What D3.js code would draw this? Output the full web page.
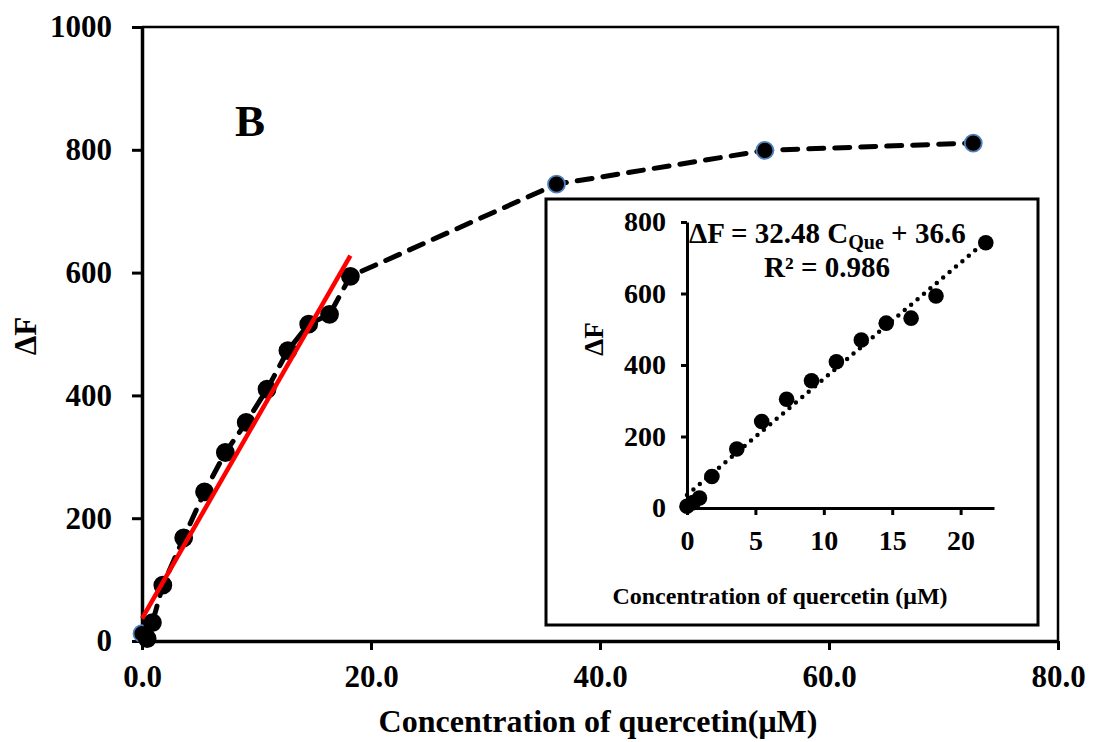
<!DOCTYPE html>
<html>
<head>
<meta charset="utf-8">
<script src="https://cdn.jsdelivr.net/npm/d3@7"></script>
<style>
  body { margin: 0; background: #fff; }
  svg { display: block; }
  text { font-family: "Liberation Serif", "Times New Roman", serif; font-weight: bold; fill: #000; }
</style>
</head>
<body>
<svg id="chart" width="1094" height="742"></svg>
<script>
// Fluorescence change (ΔF) against quercetin concentration (µM)
const concMain   = [0, 0.45, 0.91, 1.82, 3.64, 5.46, 7.28, 9.10, 10.92, 12.74, 14.56, 16.38, 18.20, 36.2, 54.4, 72.6];
const deltaFMain = [12, 4, 30, 91, 168, 243, 307, 356, 410, 473, 516, 532, 594, 744, 799, 811];

// Linear range shown in the inset
const concInset   = [0, 0.45, 0.91, 1.82, 3.64, 5.46, 7.28, 9.10, 10.92, 12.74, 14.56, 16.38, 18.20, 21.84];
const deltaFInset = [5, 15, 28, 88, 165, 242, 304, 356, 409, 470, 517, 531, 593, 742];

// Least-squares fit of the linear range
const fitSlope = 32.48;
const fitIntercept = 36.6;
const fitR2 = 0.986;

const mainXTicks  = [0, 20, 40, 60, 80];
const mainYTicks  = [0, 200, 400, 600, 800, 1000];
const insetXTicks = [0, 5, 10, 15, 20];
const insetYTicks = [0, 200, 400, 600, 800];

const svg = d3.select("#chart");
const blue = "#4f81bd";

// ---------- main panel ----------
const x = d3.scaleLinear().domain([0, 80]).range([142, 1058]);
const y = d3.scaleLinear().domain([0, 1000]).range([641, 27]);

// plot-area frame (top and right)
svg.append("path")
  .attr("d", `M${x(0)},${y(1000)}H${x(80)}V${y(0)}`)
  .attr("fill", "none").attr("stroke", "#000").attr("stroke-width", 2.5);

const yAxis = svg.append("g")
  .attr("transform", `translate(${x(0)},0)`)
  .call(d3.axisLeft(y).tickValues(mainYTicks).tickSize(10).tickSizeOuter(0).tickPadding(20).tickFormat(d3.format("d")));
const xAxis = svg.append("g")
  .attr("transform", `translate(0,${y(0)})`)
  .call(d3.axisBottom(x).tickValues(mainXTicks).tickSize(9).tickSizeOuter(0).tickPadding(15).tickFormat(d3.format(".1f")));

[yAxis, xAxis].forEach(g => {
  g.attr("font-family", null).attr("font-size", null);
  g.select(".domain").attr("stroke-width", 3.5);
  g.selectAll(".tick line").attr("stroke-width", 3);
  g.selectAll("text").style("font-size", "31px");
});

// connecting dashed curve
const mainPts = concMain.map((c, i) => [c, deltaFMain[i]]);
svg.append("path")
  .datum(mainPts)
  .attr("d", d3.line().x(d => x(d[0])).y(d => y(d[1])))
  .attr("fill", "none").attr("stroke", "#000").attr("stroke-width", 5)
  .attr("stroke-dasharray", "15 11").attr("stroke-linecap", "round");

svg.append("g").selectAll("circle")
  .data(mainPts)
  .join("circle")
  .attr("cx", d => x(d[0])).attr("cy", d => y(d[1])).attr("r", 8.5)
  .attr("fill", "#000")
  .attr("stroke", (d, i) => (i === 0 || d[0] > 20) ? blue : "#000")
  .attr("stroke-width", 1.8);

// fitted line over the linear range
const fitX = [0, 18.2];
svg.append("line")
  .attr("x1", x(fitX[0])).attr("y1", y(fitSlope * fitX[0] + fitIntercept))
  .attr("x2", x(fitX[1])).attr("y2", y(fitSlope * fitX[1] + fitIntercept))
  .attr("stroke", "#ff0000").attr("stroke-width", 4.5);

// titles
svg.append("text")
  .attr("x", 598).attr("y", 732).attr("text-anchor", "middle")
  .style("font-size", "32px")
  .text("Concentration of quercetin(μM)");
svg.append("text")
  .attr("transform", "translate(36,336) rotate(-90)").attr("text-anchor", "middle")
  .style("font-size", "31px")
  .text("ΔF");
svg.append("text")
  .attr("x", 250).attr("y", 136).attr("text-anchor", "middle")
  .style("font-size", "45px")
  .text("B");

// ---------- inset ----------
const inset = svg.append("g");
inset.append("rect")
  .attr("x", 546).attr("y", 199).attr("width", 492).attr("height", 426)
  .attr("fill", "#fff").attr("stroke", "#000").attr("stroke-width", 3);

const ix = d3.scaleLinear().domain([0, 22.44]).range([687, 994]);
const iy = d3.scaleLinear().domain([0, 800]).range([508, 222]);

const iyAxis = inset.append("g")
  .attr("transform", `translate(${ix(0)},0)`)
  .call(d3.axisLeft(iy).tickValues(insetYTicks).tickSize(6).tickSizeOuter(0).tickPadding(15).tickFormat(d3.format("d")));
const ixAxis = inset.append("g")
  .attr("transform", `translate(0,${iy(0)})`)
  .call(d3.axisBottom(ix).tickValues(insetXTicks).tickSize(7).tickSizeOuter(0).tickPadding(15).tickFormat(d3.format("d")));

[iyAxis, ixAxis].forEach(g => {
  g.attr("font-family", null).attr("font-size", null);
  g.select(".domain").attr("stroke-width", 3);
  g.selectAll(".tick line").attr("stroke-width", 3);
  g.selectAll("text").style("font-size", "28px");
});

// dotted fitted line
const fitInsetX = [0, 21.84];
inset.append("line")
  .attr("x1", ix(fitInsetX[0])).attr("y1", iy(fitSlope * fitInsetX[0] + fitIntercept))
  .attr("x2", ix(fitInsetX[1])).attr("y2", iy(fitSlope * fitInsetX[1] + fitIntercept))
  .attr("stroke", "#000").attr("stroke-width", 4.5)
  .attr("stroke-dasharray", "0 8.4").attr("stroke-linecap", "round");

inset.append("g").selectAll("circle")
  .data(concInset.map((c, i) => [c, deltaFInset[i]]))
  .join("circle")
  .attr("cx", d => ix(d[0])).attr("cy", d => iy(d[1])).attr("r", 7.8)
  .attr("fill", "#000");

// equation
const eq = inset.append("text").attr("x", 689).attr("y", 243).style("font-size", "29px");
eq.append("tspan").text("ΔF = " + fitSlope.toFixed(2) + " C");
eq.append("tspan").attr("dy", 6).style("font-size", "20px").text("Que");
eq.append("tspan").attr("dy", -6).text(" + " + fitIntercept.toFixed(1));
inset.append("text")
  .attr("x", 827).attr("y", 277).attr("text-anchor", "middle").style("font-size", "29px")
  .text("R² = " + fitR2.toFixed(3));

inset.append("text")
  .attr("x", 780).attr("y", 604).attr("text-anchor", "middle").style("font-size", "24px")
  .text("Concentration of quercetin (μM)");
inset.append("text")
  .attr("transform", "translate(603,339) rotate(-90)").attr("text-anchor", "middle")
  .style("font-size", "27px")
  .text("ΔF");
</script>
</body>
</html>
